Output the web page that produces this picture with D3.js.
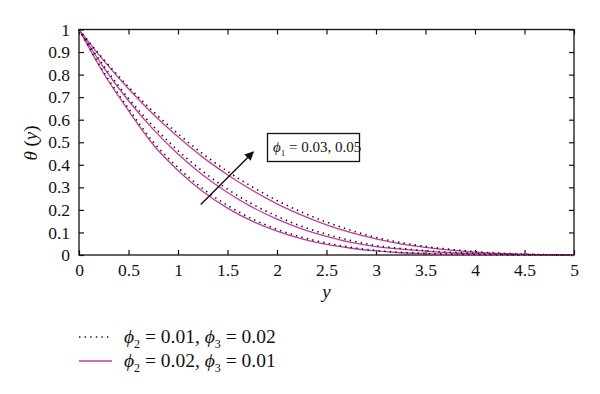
<!DOCTYPE html>
<html>
<head>
<meta charset="utf-8">
<script src="https://cdn.jsdelivr.net/npm/d3@7"></script>
<style>
  html, body { margin: 0; padding: 0; background: #fff; }
  svg { display: block; }
  text { font-family: "Liberation Serif", "DejaVu Serif", serif; fill: #111; }
</style>
</head>
<body>
<svg id="chart" width="600" height="394"></svg>
<script>
// ---- data ----
const yGrid = [0, 0.25, 0.5, 0.75, 1, 1.25, 1.5, 1.75, 2, 2.25, 2.5, 2.75, 3, 3.25, 3.5, 3.75, 4, 4.25, 4.5, 4.75, 5];

// phi2 = 0.01, phi3 = 0.02 (dotted black), three phi1 values (upper, middle, lower)
const dottedUpper  = [1, 0.867, 0.746, 0.636, 0.538, 0.449, 0.371, 0.302, 0.242, 0.190, 0.146, 0.109, 0.078, 0.055, 0.038, 0.025, 0.015, 0.008, 0.004, 0.001, 0];
const dottedMiddle = [1, 0.838, 0.695, 0.571, 0.463, 0.371, 0.292, 0.226, 0.172, 0.127, 0.092, 0.064, 0.042, 0.029, 0.019, 0.012, 0.007, 0.004, 0.002, 0.001, 0];
const dottedLower  = [1, 0.811, 0.650, 0.501, 0.388, 0.294, 0.220, 0.160, 0.114, 0.079, 0.053, 0.034, 0.020, 0.012, 0.007, 0.004, 0.002, 0.001, 0, 0, 0];

// phi2 = 0.02, phi3 = 0.01 (solid magenta)
const solidUpper  = [1, 0.862, 0.737, 0.624, 0.524, 0.434, 0.356, 0.287, 0.227, 0.177, 0.134, 0.099, 0.071, 0.049, 0.034, 0.022, 0.013, 0.007, 0.003, 0.001, 0];
const solidMiddle = [1, 0.831, 0.684, 0.557, 0.448, 0.355, 0.277, 0.212, 0.159, 0.116, 0.083, 0.056, 0.037, 0.026, 0.017, 0.010, 0.006, 0.003, 0.0015, 0.0005, 0];
const solidLower  = [1, 0.805, 0.640, 0.489, 0.375, 0.282, 0.208, 0.150, 0.106, 0.072, 0.047, 0.030, 0.018, 0.010, 0.006, 0.003, 0.0015, 0.0007, 0, 0, 0];

const xTicks = [0, 0.5, 1, 1.5, 2, 2.5, 3, 3.5, 4, 4.5, 5];
const yTicks = [0, 0.1, 0.2, 0.3, 0.4, 0.5, 0.6, 0.7, 0.8, 0.9, 1];

// ---- layout ----
const svg = d3.select("#chart");
const L = 79, R = 574, T = 29.5, B = 255;
const magenta = "#c23c9f";

const x = d3.scaleLinear().domain([0, 5]).range([L, R]);
const y = d3.scaleLinear().domain([0, 1]).range([B, T]);

// frame
svg.append("rect").attr("x", L).attr("y", T).attr("width", R - L).attr("height", B - T)
  .attr("fill", "none").attr("stroke", "#111").attr("stroke-width", 1.3);

// axes with inward ticks
const fmt = d => String(d);
const gx = svg.append("g").attr("transform", `translate(0,${B})`)
  .call(d3.axisBottom(x).tickValues(xTicks).tickSize(-5).tickPadding(9).tickFormat(fmt));
const gy = svg.append("g").attr("transform", `translate(${L},0)`)
  .call(d3.axisLeft(y).tickValues(yTicks).tickSize(-5).tickPadding(9).tickFormat(fmt));
const gxt = svg.append("g").attr("transform", `translate(0,${T})`)
  .call(d3.axisTop(x).tickValues(xTicks).tickSize(-5).tickFormat(""));
const gyr = svg.append("g").attr("transform", `translate(${R},0)`)
  .call(d3.axisRight(y).tickValues(yTicks).tickSize(-5).tickFormat(""));
[gx, gy, gxt, gyr].forEach(g => {
  g.select(".domain").remove();
  g.selectAll(".tick line").attr("stroke", "#111").attr("stroke-width", 1.2);
  g.selectAll("text").attr("font-size", 17.5).attr("fill", "#111")
    .attr("font-family", "'Liberation Serif', 'DejaVu Serif', serif");
});

// curves
const line = d3.line().x((d, i) => x(yGrid[i])).y(d => y(d)).curve(d3.curveMonotoneX);
const plot = svg.append("g");
[solidUpper, solidMiddle, solidLower].forEach(s => {
  plot.append("path").attr("d", line(s)).attr("fill", "none")
    .attr("stroke", magenta).attr("stroke-width", 1.3);
});
[dottedUpper, dottedMiddle, dottedLower].forEach(s => {
  plot.append("path").attr("d", line(s)).attr("fill", "none")
    .attr("stroke", "#111").attr("stroke-width", 1.6)
    .attr("stroke-dasharray", "1.4,4.2").attr("stroke-linecap", "butt");
});

// arrow annotation
const defs = svg.append("defs");
defs.append("marker").attr("id", "ah").attr("viewBox", "0 0 10 10")
  .attr("refX", 9).attr("refY", 5).attr("markerWidth", 9).attr("markerHeight", 9)
  .attr("markerUnits", "userSpaceOnUse").attr("orient", "auto")
  .append("path").attr("d", "M0,0 L10,5 L0,10 z").attr("fill", "#111");
svg.append("line")
  .attr("x1", x(1.23)).attr("y1", y(0.224))
  .attr("x2", x(1.76)).attr("y2", y(0.457))
  .attr("stroke", "#111").attr("stroke-width", 1.4).attr("marker-end", "url(#ah)");

// annotation box
svg.append("rect").attr("x", 267.5).attr("y", 133.5).attr("width", 92).attr("height", 28)
  .attr("fill", "#fff").attr("stroke", "#111").attr("stroke-width", 1.3);
const ann = svg.append("text").attr("x", 273).attr("y", 152).attr("font-size", 15);
ann.append("tspan").attr("font-style", "italic").text("ϕ");
ann.append("tspan").attr("font-size", 9).attr("dy", 4).text("1");
ann.append("tspan").attr("dy", -4).text(" = 0.03, 0.05");

// axis titles
const yl = svg.append("text").attr("transform", "translate(37,143) rotate(-90)")
  .attr("text-anchor", "middle").attr("font-size", 19);
yl.append("tspan").attr("font-style", "italic").text("θ");
yl.append("tspan").text(" (");
yl.append("tspan").attr("font-style", "italic").text("y");
yl.append("tspan").text(")");

svg.append("text").attr("x", (L + R) / 2).attr("y", 298).attr("text-anchor", "middle")
  .attr("font-size", 19).attr("font-style", "italic").text("y");

// legend
const legend = [
  { dash: true, p2: "0.01", p3: "0.02", ly: 337 },
  { dash: false, p2: "0.02", p3: "0.01", ly: 361 }
];
legend.forEach(e => {
  svg.append("line").attr("x1", 79).attr("x2", 112).attr("y1", e.ly).attr("y2", e.ly)
    .attr("stroke", e.dash ? "#111" : magenta)
    .attr("stroke-width", e.dash ? 1.6 : 1.3)
    .attr("stroke-dasharray", e.dash ? "1.4,4.2" : null);
  const t = svg.append("text").attr("x", 124).attr("y", e.ly + 6).attr("font-size", 19.5);
  t.append("tspan").attr("font-style", "italic").text("ϕ");
  t.append("tspan").attr("font-size", 12).attr("dy", 5).text("2");
  t.append("tspan").attr("dy", -5).text(" = " + e.p2 + ", ");
  t.append("tspan").attr("font-style", "italic").text("ϕ");
  t.append("tspan").attr("font-size", 12).attr("dy", 5).text("3");
  t.append("tspan").attr("dy", -5).text(" = " + e.p3);
});
</script>
</body>
</html>
